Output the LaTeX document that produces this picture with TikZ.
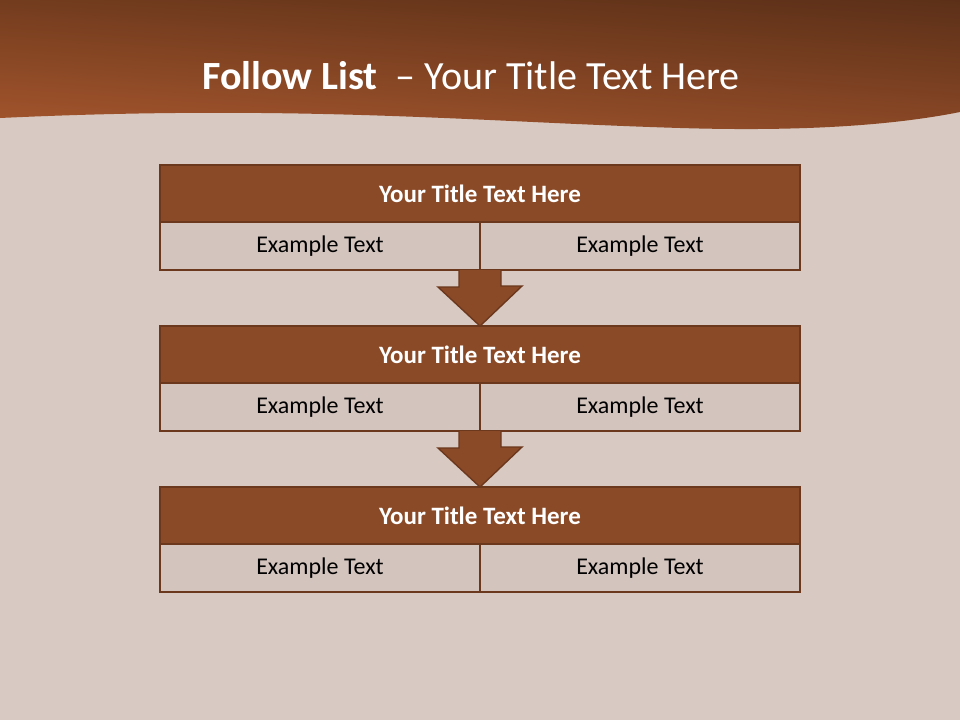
\documentclass[tikz,border=0pt]{standalone}
\usepackage{fontspec}
\usetikzlibrary{shadings}
\setmainfont{Carlito}
\definecolor{bgc}{HTML}{D8C9C2}
\definecolor{hdrUL}{HTML}{733C1E}
\definecolor{hdrLL}{HTML}{A5562D}
\definecolor{hdrUR}{HTML}{5C3018}
\definecolor{hdrLR}{HTML}{8A4826}
\definecolor{barc}{HTML}{8B4A27}
\definecolor{rowc}{HTML}{D4C4BE}
\definecolor{edgec}{HTML}{6B381D}
\tikzset{
  titlebar/.style={draw=edgec, line width=2.8pt, fill=barc, minimum width=640pt, minimum height=57pt, inner sep=0pt, outer sep=0pt, text=white, font=\fontsize{25}{30}\selectfont\bfseries},
  cellbox/.style={draw=edgec, line width=2.8pt, fill=rowc, minimum width=320pt, minimum height=48pt, inner sep=0pt, outer sep=0pt, text=black, font=\fontsize{24}{29}\selectfont},
  downarrow/.style={draw=edgec, line width=1.4pt, fill=barc, line join=miter}
}
\begin{document}
\begin{tikzpicture}[x=1pt,y=-1pt]
\useasboundingbox (0,0) rectangle (960,720);
\fill[bgc] (0,0) rectangle (960,720);
% header with wave
\shade[upper left=hdrUL, lower left=hdrLL, upper right=hdrUR, lower right=hdrLR]
  (0,0) -- (960,0) -- (960,112)
  .. controls (880,128) and (780,131) .. (680,128)
  .. controls (480,122) and (300,104) .. (0,118) -- cycle;
\node[text=white, font=\fontsize{40}{48}\selectfont] (title) at (471,76) {\textbf{Follow List}\ \ – Your Title Text Here};
% blocks
\foreach \i/\y in {1/165,2/326,3/487}{
  \node[titlebar, anchor=north west] (t\i) at (160,\y) {Your Title Text Here};
  \node[cellbox, anchor=north west] (l\i) at (t\i.south west) {Example Text};
  \node[cellbox, anchor=north east] (r\i) at (t\i.south east) {Example Text};
}
% arrows
\foreach \a/\b in {1/2,2/3}{
  \draw[downarrow] ([xshift=-21pt]l\a.south east) -- ++(0,17)
    -- ++(-21,0) -- (t\b.north) -- ++(42,-40)
    -- ++(-21,0) -- ([xshift=21pt]l\a.south east) ;
}
\end{tikzpicture}
\end{document}
